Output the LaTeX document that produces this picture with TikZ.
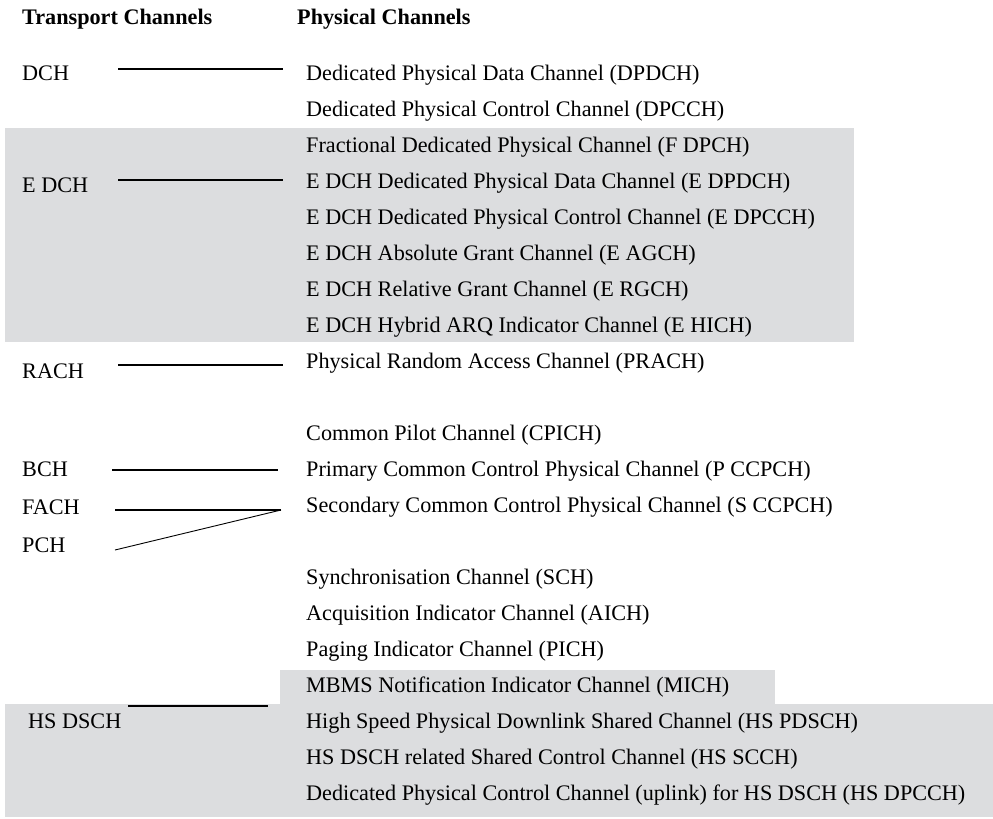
\documentclass[tikz,border=0pt]{standalone}
\usepackage{fontspec}
\setmainfont{Liberation Serif}
\definecolor{chanbg}{RGB}{220,221,223}

\begin{document}
\begin{tikzpicture}[x=1pt, y=-1pt,
  every node/.style={font=\fontsize{22.2}{26}\selectfont, inner sep=0pt, anchor=base west},
  head/.style={font=\fontsize{22.2}{26}\selectfont\bfseries},
  link/.style={line width=1.4pt},
  thinlink/.style={line width=0.9pt}]
  \useasboundingbox (0,0) rectangle (993,819);

  % shaded groups
  \fill[chanbg] (5,128) rectangle (854,342);
  \fill[chanbg] (280,670) rectangle (775,705);
  \fill[chanbg] (5,704) rectangle (993,817);

  \node[head] (th) at (22,24) {Transport Channels};
  \node[head] (ph) at (297,24) {Physical Channels};

  % transport channels
  \node (dch) at (22,80) {DCH};
  \node (edch) at (22,192) {E DCH};
  \node (rach) at (22,378) {RACH};
  \node (bch) at (22,476) {BCH};
  \node (fach) at (22,514) {FACH};
  \node (pch) at (22,552) {PCH};
  \node (hsdsch) at (28,728) {HS DSCH};

  % physical channels
  \node (dpdch) at (306,80) {Dedicated Physical Data Channel (DPDCH)};
  \node (dpcch) at (306,116) {Dedicated Physical Control Channel (DPCCH)};
  \node (fdpch) at (306,152) {Fractional Dedicated Physical Channel (F DPCH)};
  \node (edpdch) at (306,188) {E DCH Dedicated Physical Data Channel (E DPDCH)};
  \node (edpcch) at (306,224) {E DCH Dedicated Physical Control Channel (E DPCCH)};
  \node (eagch) at (306,260) {E DCH Absolute Grant Channel (E AGCH)};
  \node (ergch) at (306,296) {E DCH Relative Grant Channel (E RGCH)};
  \node (ehich) at (306,332) {E DCH Hybrid ARQ Indicator Channel (E HICH)};
  \node (prach) at (306,368) {Physical Random Access Channel (PRACH)};
  \node (cpich) at (306,440) {Common Pilot Channel (CPICH)};
  \node (pccpch) at (306,476) {Primary Common Control Physical Channel (P CCPCH)};
  \node (sccpch) at (306,512) {Secondary Common Control Physical Channel (S CCPCH)};
  \node (sch) at (306,584) {Synchronisation Channel (SCH)};
  \node (aich) at (306,620) {Acquisition Indicator Channel (AICH)};
  \node (pich) at (306,656) {Paging Indicator Channel (PICH)};
  \node (mich) at (306,692) {MBMS Notification Indicator Channel (MICH)};
  \node (hspdsch) at (306,728) {High Speed Physical Downlink Shared Channel (HS PDSCH)};
  \node (hsscch) at (306,764) {HS DSCH related Shared Control Channel (HS SCCH)};
  \node (hsdpcch) at (306,800) {Dedicated Physical Control Channel (uplink) for HS DSCH (HS DPCCH)};

  % line ends
  \coordinate (DCHa) at (118,69);
  \coordinate (DCHb) at (283,69);
  \coordinate (EDCHa) at (118,180);
  \coordinate (EDCHb) at (283,180);
  \coordinate (RACHa) at (118,365);
  \coordinate (RACHb) at (283,365);
  \coordinate (BCHa) at (112,470);
  \coordinate (BCHb) at (278,470);
  \coordinate (FACHa) at (115,510);
  \coordinate (SCCb) at (281,510);
  \coordinate (PCHa) at (115,550);
  \coordinate (HSa) at (128,706);
  \coordinate (HSb) at (268,706);

  \draw[link]
  (DCHa) -- (DCHb)
  (EDCHa) -- (EDCHb)
  (RACHa) -- (RACHb)
  (BCHa) -- (BCHb)
  (FACHa) -- (SCCb)
  (HSa) -- (HSb);
  \draw[thinlink] (PCHa) -- (SCCb);
\end{tikzpicture}
\end{document}
